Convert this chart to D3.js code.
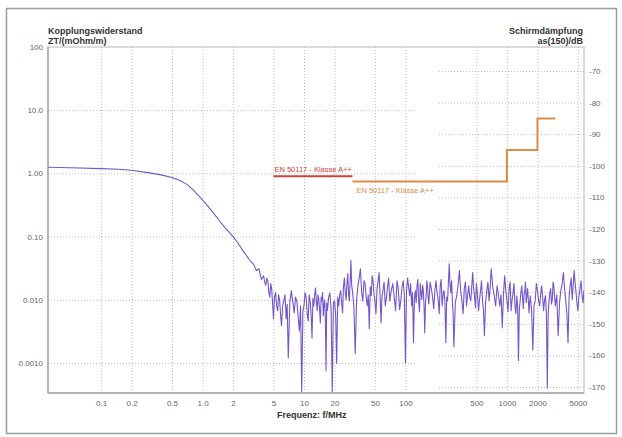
<!DOCTYPE html>
<html>
<head>
<meta charset="utf-8">
<script src="https://cdn.jsdelivr.net/npm/d3@7"></script>
<style>
body { margin: 0; background: #fff; }
svg { font-family: "Liberation Sans", Arial, sans-serif; }
</style>
</head>
<body>
<div id="chart"></div>
<script>
// tick values and labels
var freqTicks = [0.1, 0.2, 0.5, 1, 2, 5, 10, 20, 50, 100, 500, 1000, 2000, 5000];
var freqLabels = ["0.1", "0.2", "0.5", "1.0", "2", "5", "10", "20", "50", "100", "500", "1000", "2000", "5000"];
var ztTicks = [100, 10, 1, 0.1, 0.01, 0.001];
var ztLabels = ["100", "10.0", "1.00", "0.10", "0.010", "0.0010"];
var dbTicks = [-70, -80, -90, -100, -110, -120, -130, -140, -150, -160, -170];

// measured coupling impedance ZT in mOhm/m over f in MHz
var ztCurve = [
 [0.03, 1.25], [0.05, 1.23], [0.1, 1.19], [0.15, 1.16], [0.2, 1.12], [0.3, 1.02], [0.4, 0.94],
 [0.5, 0.86], [0.6, 0.77], [0.7, 0.67], [0.8, 0.56], [1.0, 0.38], [1.2, 0.27], [1.5, 0.17],
 [1.8, 0.12], [2.0, 0.10], [2.2, 0.082], [2.5, 0.060], [3.0, 0.040], [3.2, 0.036], [3.4, 0.029],
 [3.6, 0.031], [3.8, 0.021],
 [4.0, 0.024], [4.1, 0.019], [4.2, 0.017], [4.3, 0.022], [4.4, 0.020], [4.5, 0.013], [4.6, 0.011],
 [4.7, 0.018], [4.8, 0.015], [4.9, 0.009], [5.0, 0.005], [5.12, 0.011], [5.25, 0.013], [5.37, 0.008],
 [5.5, 0.0067], [5.62, 0.012], [5.75, 0.010], [5.87, 0.006], [6.0, 0.0039], [6.16, 0.008],
 [6.33, 0.0096], [6.5, 0.012], [6.67, 0.005], [6.83, 0.0085], [7.0, 0.0012], [7.25, 0.009],
 [7.5, 0.014], [7.75, 0.0095], [8.0, 0.0062], [8.25, 0.011], [8.5, 0.0096], [8.75, 0.0055],
 [9.0, 0.0032], [9.25, 0.008], [9.5, 0.00035], [9.75, 0.0065], [10, 0.008], [10.25, 0.013],
 [10.5, 0.011], [10.75, 0.006], [11, 0.0046], [11.25, 0.012], [11.5, 0.0096], [11.75, 0.006],
 [12, 0.0025], [12.25, 0.0105], [12.5, 0.008], [12.75, 0.012], [13, 0.0155], [13.25, 0.009],
 [13.5, 0.0067], [13.75, 0.012], [14, 0.010], [14.25, 0.007], [14.5, 0.0043], [14.75, 0.011],
 [15, 0.0096], [15.25, 0.013], [15.5, 0.0056], [15.75, 0.0085], [16, 0.010], [16.25, 0.005],
 [16.5, 0.00075], [16.75, 0.009], [17, 0.0067], [17.5, 0.011], [18, 0.0129], [18.5, 0.007],
 [19, 0.00035], [19.5, 0.009], [20, 0.0096], [20.5, 0.006], [21, 0.00098], [21.5, 0.011],
 [22, 0.008], [22.5, 0.012], [23, 0.014], [23.5, 0.009], [24, 0.0062], [24.5, 0.016], [25, 0.022],
 [25.5, 0.013], [26, 0.010], [26.5, 0.018], [27, 0.026], [27.5, 0.012], [28, 0.0096], [28.5, 0.02],
 [29, 0.042], [29.5, 0.017], [30, 0.014], [31, 0.008], [32, 0.0014], [33, 0.01], [34, 0.0167],
 [35, 0.022], [36, 0.031], [37, 0.013], [38, 0.0096], [39, 0.02], [40, 0.018], [41, 0.011],
 [42, 0.008], [43, 0.012], [44, 0.0035], [45, 0.016], [46, 0.0116], [47, 0.024], [48, 0.020],
 [49, 0.012], [50, 0.0096], [51.2, 0.006], [52.5, 0.015], [53.7, 0.019], [55, 0.027], [56.2, 0.012],
 [57.5, 0.0043], [58.7, 0.011], [60, 0.014], [61.6, 0.019], [63.3, 0.008], [65, 0.011],
 [66.7, 0.0167], [68.3, 0.022], [70, 0.0096], [72.5, 0.014], [75, 0.018], [77.5, 0.011],
 [80, 0.0067], [82.5, 0.02], [85, 0.015], [87.5, 0.007], [90, 0.0096], [92.5, 0.016], [95, 0.020],
 [97.5, 0.012], [100, 0.0010], [102.5, 0.014], [105, 0.022], [107.5, 0.016], [110, 0.0116],
 [112.5, 0.018], [115, 0.008], [117.5, 0.013], [120, 0.0021], [122.5, 0.01], [125, 0.014],
 [127.5, 0.009], [130, 0.0167], [132.5, 0.021], [135, 0.0096], [137.5, 0.0065], [140, 0.018],
 [142.5, 0.013], [145, 0.010], [147.5, 0.017], [150, 0.014], [152.5, 0.008], [155, 0.0030],
 [157.5, 0.009], [160, 0.0116], [162.5, 0.02], [165, 0.0167], [167.5, 0.011], [170, 0.0086],
 [175, 0.019], [180, 0.015], [185, 0.011], [190, 0.0072], [195, 0.014], [200, 0.020], [205, 0.013],
 [210, 0.010], [215, 0.006], [220, 0.0167], [225, 0.021], [230, 0.008], [235, 0.012], [240, 0.014],
 [245, 0.009], [250, 0.0021], [255, 0.011], [260, 0.0096], [265, 0.019], [270, 0.037], [275, 0.018],
 [280, 0.013], [285, 0.02], [290, 0.0096], [295, 0.006], [300, 0.0018], [310, 0.009], [320, 0.0116],
 [330, 0.017], [340, 0.029], [350, 0.014], [360, 0.0096], [370, 0.006], [380, 0.015], [390, 0.019],
 [400, 0.008], [410, 0.012], [420, 0.0167], [430, 0.011], [440, 0.0096], [450, 0.016], [460, 0.027],
 [470, 0.015], [480, 0.011], [490, 0.0075], [500, 0.018], [512, 0.012], [525, 0.0067], [537, 0.01],
 [550, 0.014], [562, 0.02], [575, 0.0096], [587, 0.007], [600, 0.0027], [616, 0.009], [633, 0.014],
 [650, 0.019], [667, 0.0096], [683, 0.015], [700, 0.031], [725, 0.016], [750, 0.0116], [775, 0.008],
 [800, 0.0167], [825, 0.012], [850, 0.008], [875, 0.012], [900, 0.0036], [925, 0.012], [950, 0.024],
 [975, 0.014], [1000, 0.0096], [1025, 0.0065], [1050, 0.015], [1075, 0.019], [1100, 0.0067],
 [1125, 0.01], [1150, 0.013], [1175, 0.018], [1200, 0.008], [1225, 0.006], [1250, 0.0116],
 [1275, 0.008], [1300, 0.0011], [1325, 0.007], [1350, 0.0096], [1375, 0.013], [1400, 0.0167],
 [1425, 0.011], [1450, 0.0072], [1475, 0.012], [1500, 0.014], [1525, 0.019], [1550, 0.009],
 [1575, 0.012], [1600, 0.015], [1625, 0.01], [1650, 0.0062], [1675, 0.009], [1700, 0.0116],
 [1750, 0.007], [1800, 0.0016], [1850, 0.008], [1900, 0.0096], [1950, 0.018], [2000, 0.014],
 [2050, 0.01], [2100, 0.008], [2150, 0.012], [2200, 0.0167], [2250, 0.011], [2300, 0.0067],
 [2350, 0.01], [2400, 0.0116], [2450, 0.006], [2500, 0.0004], [2550, 0.006], [2600, 0.0096],
 [2650, 0.013], [2700, 0.015], [2750, 0.0085], [2800, 0.010], [2850, 0.019], [2900, 0.0167],
 [2950, 0.011], [3000, 0.008], [3100, 0.012], [3200, 0.0027], [3300, 0.009], [3400, 0.014],
 [3500, 0.018], [3600, 0.027], [3700, 0.015], [3800, 0.0096], [3900, 0.006], [4000, 0.0021],
 [4100, 0.011], [4200, 0.0167], [4300, 0.022], [4400, 0.010], [4500, 0.017], [4600, 0.029],
 [4700, 0.018], [4800, 0.013], [4900, 0.009], [5000, 0.0067], [5120, 0.011], [5250, 0.015],
 [5370, 0.02], [5500, 0.0116], [5620, 0.009], [5750, 0.014]
];

// EN 50117 class A++ limits
var ztLimit = [[5, 0.9], [30, 0.9]];
var asLimit = [[30, -105], [1000, -95], [2000, -85], [3000, -85]];

var W = 622, H = 437;
var pL = 48, pR = 584, pT = 47, pB = 393;

var svg = d3.select("#chart").append("svg")
  .attr("width", W)
  .attr("height", H);

// outer frame
svg.append("rect")
  .attr("x", 6.5).attr("y", 8.5)
  .attr("width", 610).attr("height", 425)
  .attr("fill", "#fff")
  .attr("stroke", "#9a9a9a")
  .attr("stroke-width", 1.5);

var x = d3.scaleLog().domain([0.03, 5750]).range([pL, pR]);
var yL = d3.scaleLog().domain([0.000335, 100]).range([pB, pT]);
var yR = d3.scaleLinear().domain([-171.9, -62.4]).range([pB, pT]);

// grid lines
function gridStyle(g) {
  g.select(".domain").remove();
  g.selectAll(".tick line")
    .attr("stroke", "#bdbdbd")
    .attr("stroke-dasharray", "1,2");
  g.selectAll("text").remove();
}
svg.append("g")
  .attr("transform", "translate(0," + pB + ")")
  .call(d3.axisBottom(x).tickValues(freqTicks).tickSize(-(pB - pT)))
  .call(gridStyle);
svg.append("g")
  .attr("transform", "translate(" + pL + ",0)")
  .call(d3.axisLeft(yL).tickValues(ztTicks.slice(1)).tickSize(-(416 - pL)))
  .call(gridStyle);
svg.append("g")
  .attr("transform", "translate(" + pR + ",0)")
  .call(d3.axisRight(yR).tickValues(dbTicks).tickSize(-(pR - 438)))
  .call(gridStyle);

// plot border: light top/right, darker left/bottom
svg.append("rect")
  .attr("x", pL).attr("y", pT)
  .attr("width", pR - pL).attr("height", pB - pT)
  .attr("fill", "none")
  .attr("stroke", "#b8b8b8")
  .attr("stroke-width", 1);
svg.append("path")
  .attr("d", "M" + pL + "," + pT + "V" + pB + "H" + pR)
  .attr("fill", "none")
  .attr("stroke", "#8f8f8f")
  .attr("stroke-width", 1);

// tick labels
function labelStyle(g) {
  g.select(".domain").remove();
  g.selectAll("text").attr("fill", "#666").style("font-size", "8px");
}
svg.append("g")
  .attr("transform", "translate(0," + pB + ")")
  .call(d3.axisBottom(x).tickValues(freqTicks)
    .tickFormat(function(d, i) { return freqLabels[i]; })
    .tickSize(0).tickPadding(7))
  .call(labelStyle);
svg.append("g")
  .attr("transform", "translate(" + pL + ",0)")
  .call(d3.axisLeft(yL).tickValues(ztTicks)
    .tickFormat(function(d, i) { return ztLabels[i]; })
    .tickSize(0).tickPadding(5))
  .call(labelStyle);
svg.append("g")
  .attr("transform", "translate(" + pR + ",0)")
  .call(d3.axisRight(yR).tickValues(dbTicks)
    .tickFormat(function(d) { return String(d); })
    .tickSize(0).tickPadding(5))
  .call(labelStyle);

// titles
function title(txt, tx, ty, anchor) {
  svg.append("text")
    .attr("x", tx).attr("y", ty)
    .attr("text-anchor", anchor)
    .attr("font-weight", "bold")
    .attr("font-size", "9px")
    .attr("fill", "#333")
    .text(txt);
}
title("Kopplungswiderstand", 48, 34, "start");
title("ZT/(mOhm/m)", 48, 44, "start");
title("Schirmdämpfung", 583, 34, "end");
title("as(150)/dB", 583, 44, "end");
title("Frequenz: f/MHz", 277, 418, "start");

// clip
svg.append("clipPath").attr("id", "plot")
  .append("rect").attr("x", pL).attr("y", pT)
  .attr("width", pR - pL).attr("height", pB - pT);

var plot = svg.append("g").attr("clip-path", "url(#plot)");

var ztLine = d3.line()
  .x(function(d) { return x(d[0]); })
  .y(function(d) { return yL(d[1]); });

plot.append("path")
  .datum(ztCurve)
  .attr("d", ztLine)
  .attr("fill", "none")
  .attr("stroke", "#7556c8")
  .attr("stroke-width", 1.1)
  .attr("stroke-linejoin", "round");

// limit lines
plot.append("path")
  .datum(ztLimit)
  .attr("d", ztLine)
  .attr("fill", "none")
  .attr("stroke", "#cc4137")
  .attr("stroke-width", 2);

var asLine = d3.line()
  .x(function(d) { return x(d[0]); })
  .y(function(d) { return yR(d[1]); })
  .curve(d3.curveStepAfter);

plot.append("path")
  .datum(asLimit)
  .attr("d", asLine)
  .attr("fill", "none")
  .attr("stroke", "#e08a45")
  .attr("stroke-width", 2);

svg.append("text")
  .attr("x", x(ztLimit[0][0]) + 1)
  .attr("y", yL(ztLimit[0][1]) - 4)
  .attr("font-size", "7.5px")
  .attr("fill", "#cc4137")
  .text("EN 50117 - Klasse A++");

svg.append("text")
  .attr("x", x(asLimit[0][0]) + 4)
  .attr("y", yR(asLimit[0][1]) + 11)
  .attr("font-size", "7.5px")
  .attr("fill", "#e08a45")
  .text("EN 50117 - Klasse A++");
</script>
</body>
</html>
